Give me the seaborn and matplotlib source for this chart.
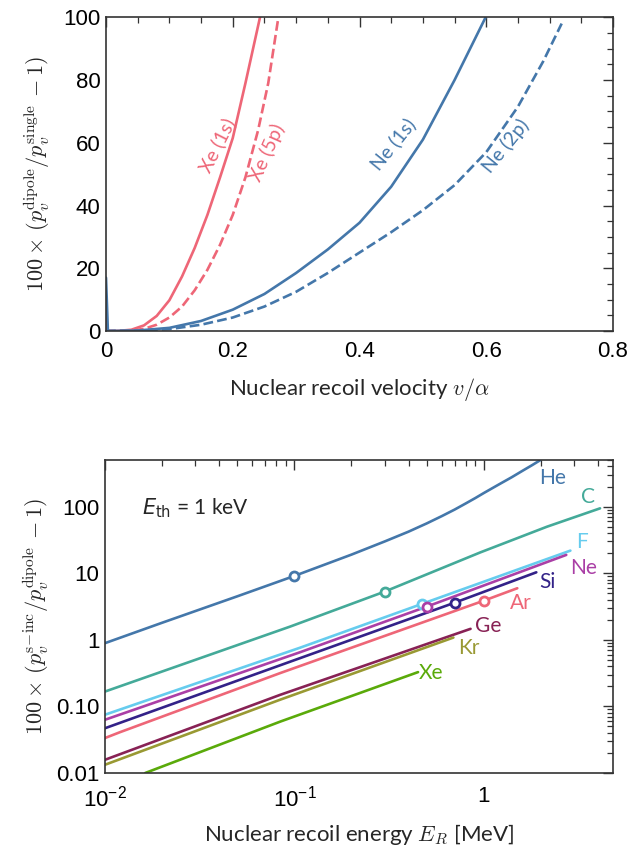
import numpy as np
import pandas as pd
import matplotlib
matplotlib.use("Agg")
import matplotlib.pyplot as plt
import seaborn as sns
from matplotlib.ticker import MultipleLocator, LogLocator, NullFormatter

# ---------------- data: top panel (v/alpha, 100*(ratio-1)) ----------------
xe1s_v = [0.0, 0.002, 0.02, 0.04, 0.06, 0.08, 0.1, 0.12, 0.14, 0.16, 0.18, 0.2, 0.22, 0.243]
xe1s_y = [4.0, 0.0, 0.05, 0.4, 1.8, 4.8, 9.8, 17.4, 26.5, 37.0, 49.0, 61.5, 79.0, 100.0]
xe5p_v = [0.0, 0.04, 0.06, 0.08, 0.1, 0.12, 0.14, 0.16, 0.18, 0.2, 0.22, 0.24, 0.256, 0.272]
xe5p_y = [0.0, 0.1, 0.7, 2.0, 4.3, 7.8, 13.0, 19.5, 27.5, 37.0, 49.0, 64.0, 79.0, 100.0]
ne1s_v = [0.0, 0.003, 0.05, 0.1, 0.15, 0.2, 0.25, 0.3, 0.35, 0.4, 0.45, 0.5, 0.55, 0.599]
ne1s_y = [17.0, 0.0, 0.15, 1.0, 3.2, 6.8, 11.8, 18.5, 26.0, 34.5, 46.0, 61.0, 80.0, 100.0]
ne2p_v = [0.0, 0.05, 0.1, 0.15, 0.2, 0.25, 0.3, 0.35, 0.4, 0.45, 0.5, 0.55, 0.6, 0.65, 0.69, 0.719]
ne2p_y = [0.0, 0.1, 0.6, 2.0, 4.3, 7.8, 12.5, 18.5, 25.0, 31.5, 38.5, 46.5, 57.0, 71.5, 86.0, 98.0]
top_labels = ["Xe (1s)", "Xe (5p)", "Ne (1s)", "Ne (2p)"]

# ---------------- data: bottom panel (E_R [MeV], 100*(ratio-1)) ----------------
elements = ["He", "C", "F", "Ne", "Si", "Ar", "Ge", "Kr", "Xe"]
he_E = [0.01, 0.02, 0.05, 0.1, 0.15, 0.2, 0.3, 0.4, 0.5, 0.6, 0.7, 0.8, 0.9, 1.0,
        1.2, 1.4, 1.6, 1.8, 1.99]
he_y = [0.89, 1.8, 4.5, 9.1, 14.0, 19.0, 30.0, 42.0, 56.0, 72.0, 90.0, 111.0, 134.0, 160.0,
        215.0, 275.0, 345.0, 420.0, 500.0]
c_E = [0.01, 0.095, 0.3, 0.957, 2.15, 4.1]
c_y = [0.167, 1.58, 5.3, 20.5, 49.8, 94.0]
f_E = [0.01, 0.107, 0.47, 2.86]
f_y = [0.075, 0.76, 3.45, 21.8]
ne_E = [0.01, 0.107, 0.5, 2.72]
ne_y = [0.063, 0.65, 3.15, 18.8]
si_E = [0.01, 0.107, 0.7, 1.89]
si_y = [0.047, 0.53, 3.6, 10.3]
ar_E = [0.01, 0.012, 0.084, 1.0, 1.50]
ar_y = [0.0335, 0.041, 0.316, 3.87, 5.94]
ge_E = [0.01, 0.084, 0.85]
ge_y = [0.0158, 0.149, 1.46]
kr_E = [0.01, 0.084, 0.69]
kr_y = [0.0133, 0.126, 1.08]
xe_E = [0.0163, 0.084, 0.449]
xe_y = [0.01, 0.059, 0.327]
marker_E = [0.1, 0.3, 0.47, 0.5, 0.7, 1.0]
marker_y = [9.1, 5.3, 3.45, 3.15, 3.6, 3.87]
marker_el = ["He", "C", "F", "Ne", "Si", "Ar"]

ytick_vals = [0.01, 0.1, 1, 10, 100]
ytick_lbls = ["0.01", "0.10", "1", "10", "100"]
xtick_vals = [0.01, 0.1, 1]
xtick_lbls = [r"$\mathregular{10^{-2}}$", r"$\mathregular{10^{-1}}$", "1"]

colors = {"He": "#4477AA", "C": "#44AA99", "F": "#66CCEE", "Ne": "#AA3FA6",
          "Si": "#332288", "Ar": "#EE6677", "Ge": "#882255", "Kr": "#999933",
          "Xe": "#5AAA0A"}
RED = "#EE6677"
BLUE = "#4477AA"

sns.set_theme(style="white")
plt.rcParams["font.family"] = ["Liberation Sans", "DejaVu Sans"]
plt.rcParams["mathtext.fontset"] = "cm"
LABF = ["Lato", "DejaVu Sans"]
TICKFS = 16

fig = plt.figure(figsize=(6.31, 8.46), dpi=100)
ax1 = fig.add_axes([106 / 631, 1 - 331 / 846, 507 / 631, 313.7 / 846])
ax2 = fig.add_axes([105 / 631, 1 - 773 / 846, 508 / 631, 313 / 846])

LW = 1.9

def style_axes(ax):
    for s in ax.spines.values():
        s.set_color("#333333")
        s.set_linewidth(1.2)
    ax.tick_params(which="both", direction="in", top=True, right=True,
                   colors="#333333", labelcolor="black", labelsize=TICKFS)
    ax.tick_params(which="major", length=7, width=1.0)
    ax.tick_params(which="minor", length=4, width=0.9)
    ax.tick_params(axis="x", which="major", pad=7)
    ax.tick_params(axis="y", which="major", pad=4)
    for lab in ax.get_xticklabels() + ax.get_yticklabels():
        lab.set_fontsize(TICKFS)

# ---------- top panel ----------
top = [(xe1s_v, xe1s_y, RED, "-"), (xe5p_v, xe5p_y, RED, "--"),
       (ne1s_v, ne1s_y, BLUE, "-"), (ne2p_v, ne2p_y, BLUE, "--")]
for v, y, c, ls in top:
    df = pd.DataFrame({"v": v, "y": y})
    sns.lineplot(data=df, x="v", y="y", ax=ax1, color=c, linestyle=ls, lw=LW,
                 sort=False, estimator=None)
ax1.set_xlim(0, 0.8)
ax1.set_ylim(0, 100)
ax1.set_xticks([0, 0.2, 0.4, 0.6, 0.8], ["0", "0.2", "0.4", "0.6", "0.8"])
ax1.set_yticks([0, 20, 40, 60, 80, 100], ["0", "20", "40", "60", "80", "100"])
ax1.xaxis.set_minor_locator(MultipleLocator(0.05))
ax1.yaxis.set_minor_locator(MultipleLocator(5))
style_axes(ax1)
ax1.set_xlabel(r"Nuclear recoil velocity $v/\alpha$", fontsize=16, family=LABF, labelpad=10)
ax1.set_ylabel(r"$100\times\,(p_v^{\mathrm{dipole}}/p_v^{\mathrm{single}}\,-1)$", fontsize=16, labelpad=8)

lab_pos = [(217, 145, 63, RED), (267, 153, 66, RED), (393, 144, 51, BLUE), (506, 146, 51, BLUE)]
for t, (px, py, rot, c) in zip(top_labels, lab_pos):
    fig.text(px / 631, 1 - py / 846, t, color=c, rotation=rot, fontsize=14,
             family=LABF, ha="center", va="center", rotation_mode="anchor")

# ---------- bottom panel ----------
series = [(he_E, he_y), (c_E, c_y), (f_E, f_y), (ne_E, ne_y), (si_E, si_y),
          (ar_E, ar_y), (ge_E, ge_y), (kr_E, kr_y), (xe_E, xe_y)]
ax2.set_xscale("log")
ax2.set_yscale("log")
for el, (E, y) in zip(elements, series):
    df = pd.DataFrame({"E": E, "y": y})
    sns.lineplot(data=df, x="E", y="y", ax=ax2, color=colors[el], lw=LW,
                 sort=False, estimator=None)
mdf = pd.DataFrame({"E": marker_E, "y": marker_y, "el": marker_el})
for _, r in mdf.iterrows():
    ax2.plot([r["E"]], [r["y"]], marker="o", ms=6.5, mfc="white",
             mec=colors[r["el"]], mew=2.0, zorder=5)
ax2.set_xlim(0.01, 4.8)
ax2.set_ylim(0.01, 500)
ax2.xaxis.set_minor_locator(LogLocator(base=10, subs=np.arange(2, 10), numticks=10))
ax2.yaxis.set_minor_locator(LogLocator(base=10, subs=np.arange(2, 10), numticks=10))
ax2.set_yticks(ytick_vals, ytick_lbls)
ax2.set_xticks(xtick_vals, xtick_lbls)
ax2.xaxis.set_minor_formatter(NullFormatter())
ax2.yaxis.set_minor_formatter(NullFormatter())
style_axes(ax2)
ax2.tick_params(axis="x", which="major", pad=9)
ax2.set_xlabel(r"Nuclear recoil energy $E_R$ [MeV]", fontsize=16, family=LABF, labelpad=8)
ax2.set_ylabel(r"$100\times\,(p_v^{\mathrm{s\!-\!inc}}/p_v^{\mathrm{dipole}}\,-1)$", fontsize=16, labelpad=4)

el_lab = {"He": (553, 478), "C": (588, 497), "F": (582, 542), "Ne": (584, 568),
          "Si": (547, 582), "Ar": (521, 603), "Ge": (488, 626), "Kr": (469, 648),
          "Xe": (431, 673)}
for el, (px, py) in el_lab.items():
    fig.text(px / 631, 1 - py / 846, el, color=colors[el], fontsize=15,
             family=LABF, ha="center", va="center")

fig.text(195 / 631, 1 - 508 / 846, r"$E_{\mathrm{th}}$ = 1 keV", fontsize=15,
         family=LABF, ha="center", va="center", math_fontfamily="dejavusans")

fig.savefig("out.png", dpi=100)
